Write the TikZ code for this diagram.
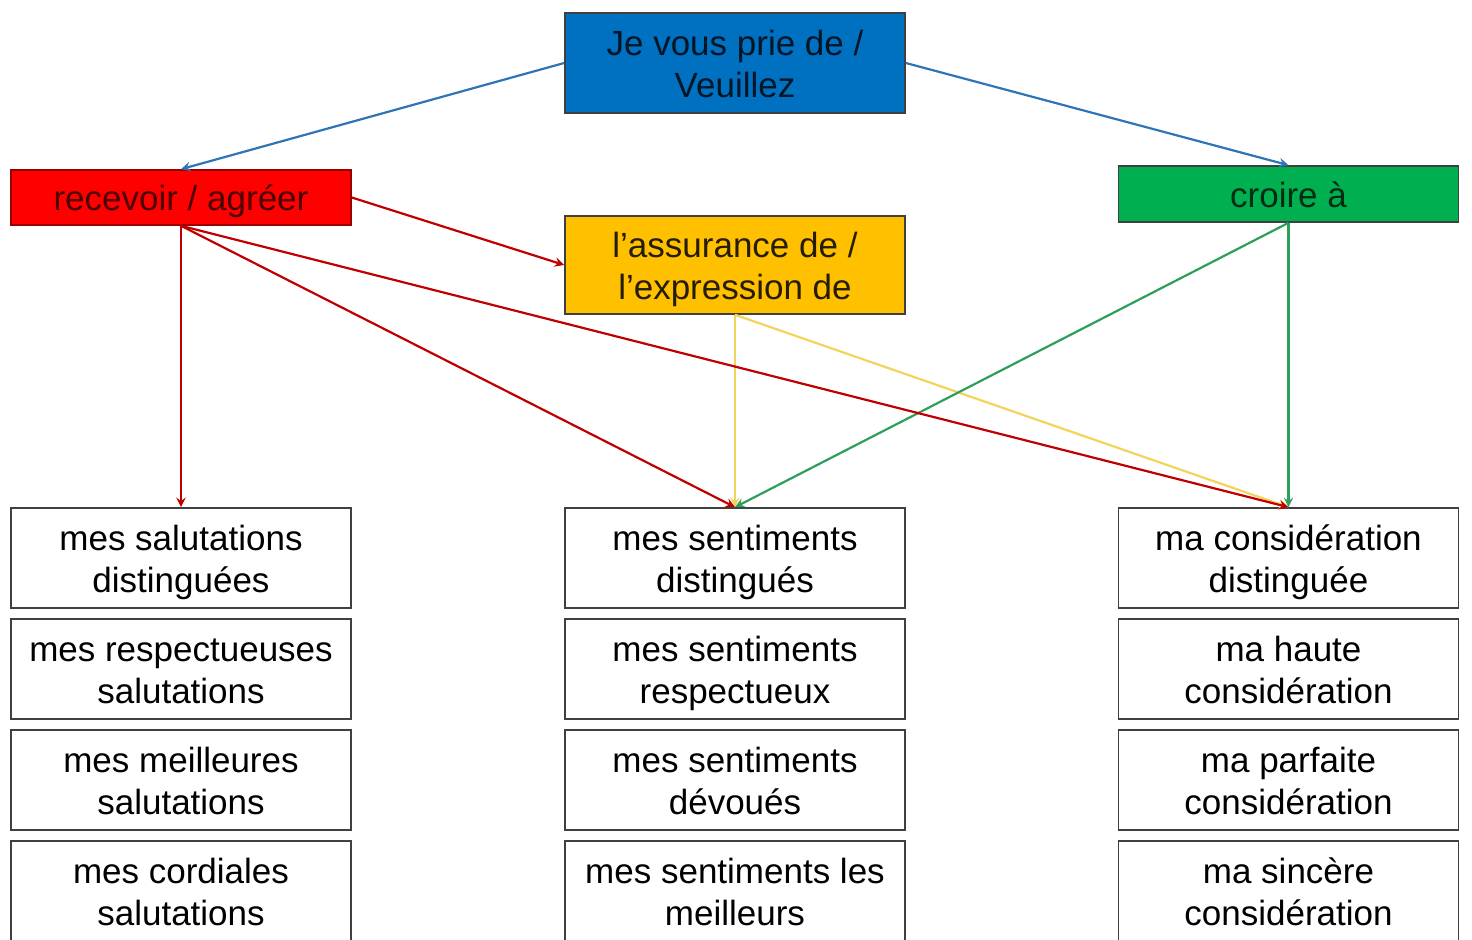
\documentclass[tikz,border=0pt]{standalone}
\usepackage{fontspec}
\setmainfont{Liberation Sans}
\usepackage{tikz}
\usetikzlibrary{shapes.geometric, arrows}
\definecolor{bleu}{HTML}{0070C0}
\definecolor{rouge}{HTML}{FF0000}
\definecolor{jaune}{HTML}{FFC000}
\definecolor{vert}{HTML}{00B050}
\definecolor{fleche bleu}{HTML}{2E75B6}
\definecolor{fleche rouge}{HTML}{C00000}
\definecolor{fleche jaune}{HTML}{F2D45C}
\definecolor{fleche vert}{HTML}{2E9E5B}
\tikzstyle{box} = [rectangle, draw=black!75, line width=0.8pt, minimum width=170pt, minimum height=50pt, inner sep=0pt, align=center, text height=35.8pt, text depth=1.7pt, font=\fontsize{17.5}{21}\selectfont]
\tikzstyle{oneline} = [text height=15pt, text depth=1.7pt]
\tikzstyle{arrow} = [line width=1.1pt,->,>=stealth]

\begin{document}
\begin{tikzpicture}[x=0.5pt, y=-0.5pt]
        \useasboundingbox (0,0) rectangle (1472,940);
        % top boxes
        \node[box, fill=bleu, text=black!80!bleu] (prie) at (735,63) {Je vous prie de /\\Veuillez};
        \node[box, oneline, fill=rouge, draw=rouge!60!black, text=black!70!rouge, minimum height=27.5pt] (recv) at (181,197.5) {recevoir / agréer};
        \node[box, oneline, fill=vert, text=black!75!vert, minimum height=28pt] (croi) at (1288.5,194) {croire à};
        \node[box, fill=jaune, text=black!85!jaune, minimum height=49pt] (assu) at (735,265) {l’assurance de /\\l’expression de};

        % bottom boxes
        \node[box] (s1) at (181,558) {mes salutations\\distinguées};
        \node[box] (s2) at (181,669) {mes respectueuses\\salutations};
        \node[box] (s3) at (181,780) {mes meilleures\\salutations};
        \node[box] (s4) at (181,891) {mes cordiales\\salutations};

        \node[box] (m1) at (735,558) {mes sentiments\\distingués};
        \node[box] (m2) at (735,669) {mes sentiments\\respectueux};
        \node[box] (m3) at (735,780) {mes sentiments\\dévoués};
        \node[box] (m4) at (735,891) {mes sentiments les\\meilleurs};

        \node[box] (c1) at (1288.5,558) {ma considération\\distinguée};
        \node[box] (c2) at (1288.5,669) {ma haute\\considération};
        \node[box] (c3) at (1288.5,780) {ma parfaite\\considération};
        \node[box] (c4) at (1288.5,891) {ma sincère\\considération};

        \draw[arrow, fleche bleu] (prie.west) -- (recv.north);
        \draw[arrow, fleche bleu] (prie.east) -- (croi.north);

        \draw[arrow, fleche jaune] (assu.south) -- (m1.north);
        \draw[arrow, fleche jaune] (assu.south) -- (c1.north);

        \draw[arrow, fleche vert] (croi.south) -- (m1.north);
        \draw[arrow, fleche vert] (croi.south) -- (c1.north);

        \draw[arrow, fleche rouge] (recv.east) -- (assu.west);
        \draw[arrow, fleche rouge] (recv.south) -- (s1.north);
        \draw[arrow, fleche rouge] (recv.south) -- (m1.north);
        \draw[arrow, fleche rouge] (recv.south) -- (c1.north);
      \end{tikzpicture}
\end{document}
